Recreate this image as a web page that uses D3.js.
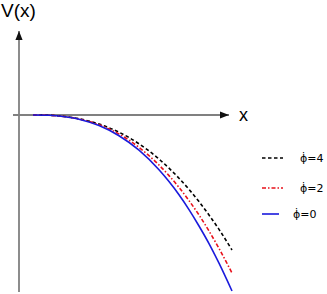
<!DOCTYPE html>
<html>
<head>
<meta charset="utf-8">
<script src="https://cdn.jsdelivr.net/npm/d3@7"></script>
<style>
  body { margin: 0; background: #fff; }
  text { font-family: "Liberation Sans", Arial, sans-serif; }
</style>
</head>
<body>
<div id="chart"></div>
<script>
// values
var xs = [0.7, 1.5, 2, 3, 4, 5, 6, 7, 7.5, 8, 8.5, 9, 9.5, 10, 10.65];
var vPhi4 = [0, -0.014, -0.046, -0.19, -0.45, -0.86, -1.44, -2.2, -2.66, -3.16, -3.72, -4.33, -5.0, -5.72, -6.75];
var vPhi2 = [0, -0.014, -0.047, -0.2, -0.49, -0.95, -1.62, -2.5, -3.03, -3.62, -4.28, -5.0, -5.8, -6.67, -7.9];
var vPhi0 = [0, -0.01, -0.05, -0.21, -0.53, -1.04, -1.76, -2.74, -3.33, -3.99, -4.73, -5.55, -6.43, -7.41, -8.8];
var seriesNames = ["\u03D5\u0307=4", "\u03D5\u0307=2", "\u03D5\u0307=0"];

var width = 327, height = 294;

var svg = d3.select("#chart").append("svg")
    .attr("width", width)
    .attr("height", height);

// 20px per unit, origin at (19,115)
var x = d3.scaleLinear().domain([0, 10.5]).range([19, 229]);
var y = d3.scaleLinear().domain([-8.85, 4.2]).range([292, 31]);

var defs = svg.append("defs");
defs.append("marker")
    .attr("id", "arrow")
    .attr("viewBox", "0 0 10 10")
    .attr("refX", 10).attr("refY", 5)
    .attr("markerWidth", 5).attr("markerHeight", 5)
    .attr("markerUnits", "strokeWidth")
    .attr("orient", "auto")
  .append("path")
    .attr("d", "M0,1 L10,5 L0,9 Z")
    .attr("fill", "#111");

// axes
svg.append("line")
    .attr("x1", x(-0.3)).attr("y1", y(0))
    .attr("x2", x(10.5)).attr("y2", y(0))
    .attr("stroke", "#808080").attr("stroke-width", 1.8)
    .attr("marker-end", "url(#arrow)");

svg.append("line")
    .attr("x1", x(0)).attr("y1", y(-8.85))
    .attr("x2", x(0)).attr("y2", y(4.2))
    .attr("stroke", "#808080").attr("stroke-width", 1.8)
    .attr("marker-end", "url(#arrow)");

svg.append("text")
    .attr("x", 1).attr("y", 17)
    .attr("font-size", 19)
    .text("V(x)");

svg.append("text")
    .attr("x", 239).attr("y", 121)
    .attr("font-size", 18)
    .text("x");

// curves
var series = [
  {name: seriesNames[0], v: vPhi4, color: "#000000", dash: "3.5,2.5"},
  {name: seriesNames[1], v: vPhi2, color: "#e8101a", dash: "4,2,1.5,2"},
  {name: seriesNames[2], v: vPhi0, color: "#1a1adc", dash: null}
];

var line = d3.line()
    .x(function(d) { return x(d[0]); })
    .y(function(d) { return y(d[1]); })
    .curve(d3.curveMonotoneX);

series.forEach(function(s) {
  svg.append("path")
      .datum(xs.map(function(xv, i) { return [xv, s.v[i]]; }))
      .attr("d", line)
      .attr("fill", "none")
      .attr("stroke", s.color)
      .attr("stroke-width", 1.6)
      .attr("stroke-dasharray", s.dash);
});

// legend
var legendY = [158, 188, 214];
var legendLen = [21, 21, 17];
var textX = [300, 300, 293];
series.forEach(function(s, i) {
  svg.append("line")
      .attr("x1", 262).attr("x2", 262 + legendLen[i])
      .attr("y1", legendY[i]).attr("y2", legendY[i])
      .attr("stroke", s.color)
      .attr("stroke-width", 1.6)
      .attr("stroke-dasharray", s.dash);
  svg.append("text")
      .attr("x", textX[i]).attr("y", legendY[i] + 4)
      .attr("font-size", 11)
      .style("font-family", "'DejaVu Sans', sans-serif")
      .text(s.name);
});
</script>
</body>
</html>
